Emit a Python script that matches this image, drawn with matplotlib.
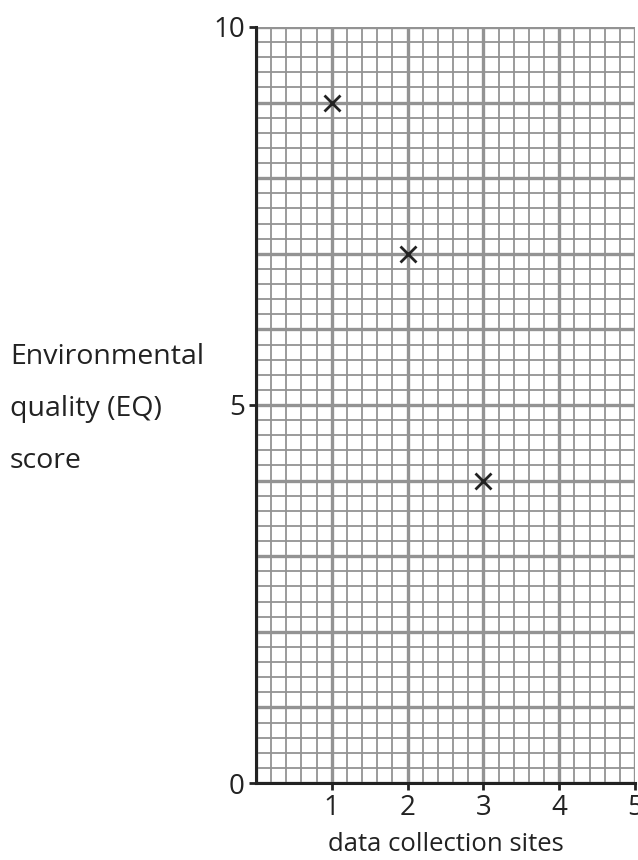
import matplotlib
matplotlib.use("Agg")
import matplotlib.pyplot as plt
import numpy as np

sites = [1, 2, 3]
eq_scores = [9, 7, 4]
x_ticks = [1, 2, 3, 4, 5]
y_ticks = [0, 5, 10]

plt.rcParams['font.family'] = ['Open Sans', 'DejaVu Sans']

fig = plt.figure(figsize=(6.38, 8.6), dpi=100)
ax = fig.add_axes([256/638, 77/860, 379/638, 756/860])
ax.set_xlim(0, 5)
ax.set_ylim(0, 10)

grid_col = '#939393'
for v in np.arange(0, 5.01, 0.2):
    major = abs(v - round(v)) < 1e-6
    ax.axvline(v, color=grid_col, lw=2.4 if major else 1.3, zorder=1)
for v in np.arange(0, 10.01, 0.2):
    major = abs(v - round(v)) < 1e-6
    ax.axhline(v, color=grid_col, lw=2.4 if major else 1.3, zorder=1)

ax.plot(sites, eq_scores, linestyle='none', marker='x', color='#222222',
        markersize=11, markeredgewidth=2, zorder=3, clip_on=False)

for s in ['top', 'right']:
    ax.spines[s].set_visible(False)
for s in ['left', 'bottom']:
    ax.spines[s].set_color('#222222')
    ax.spines[s].set_linewidth(2.2)
    ax.spines[s].set_zorder(4)

ax.set_xticks(x_ticks)
ax.set_yticks(y_ticks)
ax.tick_params(direction='out', length=5, width=2, color='#222222',
               labelsize=20, labelcolor='#222222', pad=3)

ax.set_xlabel('data collection sites', fontsize=18.5, color='#222222', labelpad=7)
fig.text(10/638, 1 - 409/860, 'Environmental\nquality (EQ)\nscore', fontsize=20.5,
         color='#222222', ha='left', va='center', linespacing=2.15)

fig.savefig('out.png', dpi=100)
